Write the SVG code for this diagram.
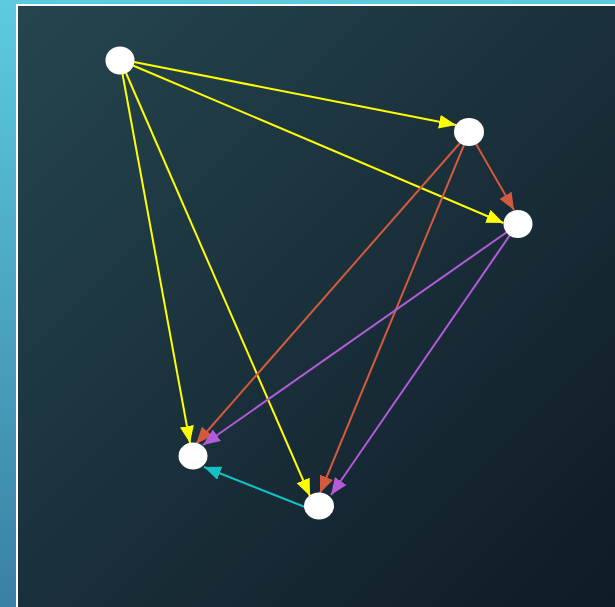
<svg xmlns="http://www.w3.org/2000/svg" width="615" height="607" viewBox="0 0 615 607">
<defs>
<linearGradient id="side" x1="0" y1="0" x2="0" y2="1">
<stop offset="0" stop-color="#5ccbdf"/>
<stop offset="1" stop-color="#3a80a4"/>
</linearGradient>
<linearGradient id="panel" x1="0" y1="0" x2="1" y2="1">
<stop offset="0" stop-color="#25464f"/>
<stop offset="1" stop-color="#0f1a26"/>
</linearGradient>
<marker id="mY" markerUnits="userSpaceOnUse" markerWidth="17" markerHeight="14" refX="17" refY="7" orient="auto"><path d="M0,0 L17,7 L0,14 z" fill="#ffff00"/></marker>
<marker id="mR" markerUnits="userSpaceOnUse" markerWidth="17" markerHeight="14" refX="17" refY="7" orient="auto"><path d="M0,0 L17,7 L0,14 z" fill="#d3593f"/></marker>
<marker id="mP" markerUnits="userSpaceOnUse" markerWidth="17" markerHeight="14" refX="17" refY="7" orient="auto"><path d="M0,0 L17,7 L0,14 z" fill="#b35bd8"/></marker>
<marker id="mC" markerUnits="userSpaceOnUse" markerWidth="17" markerHeight="14" refX="17" refY="7" orient="auto"><path d="M0,0 L17,7 L0,14 z" fill="#14c0c4"/></marker>
</defs>
<style>
.e{stroke-width:2;fill:none}
.y{stroke:#ffff00;marker-end:url(#mY)}
.r{stroke:#d3593f;marker-end:url(#mR)}
.p{stroke:#b35bd8;marker-end:url(#mP)}
.c{stroke:#14c0c4;marker-end:url(#mC)}
.n{fill:#ffffff}
</style>
<rect x="0" y="0" width="615" height="607" fill="url(#side)"/>
<rect x="17" y="5" width="600" height="605" fill="url(#panel)" stroke="#ffffff" stroke-width="2"/>
<g id="edges">
<line class="e y" x1="134" y1="62" x2="456" y2="125"/>
<line class="e y" x1="133" y1="65.5" x2="503.5" y2="223"/>
<line class="e y" x1="122.5" y1="74" x2="190" y2="443"/>
<line class="e y" x1="126" y1="73" x2="310" y2="496"/>
<line class="e r" x1="476" y1="144" x2="514" y2="210"/>
<line class="e r" x1="460" y1="143" x2="196" y2="444"/>
<line class="e r" x1="464" y1="145" x2="320" y2="493"/>
<line class="e p" x1="507" y1="232" x2="203" y2="445"/>
<line class="e p" x1="510" y1="235" x2="331" y2="495"/>
<line class="e c" x1="305" y1="507" x2="204" y2="467"/>
</g>
<g id="nA"><ellipse class="n" cx="120" cy="60.5" rx="14.5" ry="14"/></g>
<g id="nB"><ellipse class="n" cx="469" cy="132" rx="15" ry="14"/></g>
<g id="nC"><ellipse class="n" cx="518" cy="224" rx="14.5" ry="14"/></g>
<g id="nD"><ellipse class="n" cx="193" cy="456" rx="14.5" ry="13.5"/></g>
<g id="nE"><ellipse class="n" cx="319" cy="506" rx="15" ry="13.5"/></g>
</svg>
